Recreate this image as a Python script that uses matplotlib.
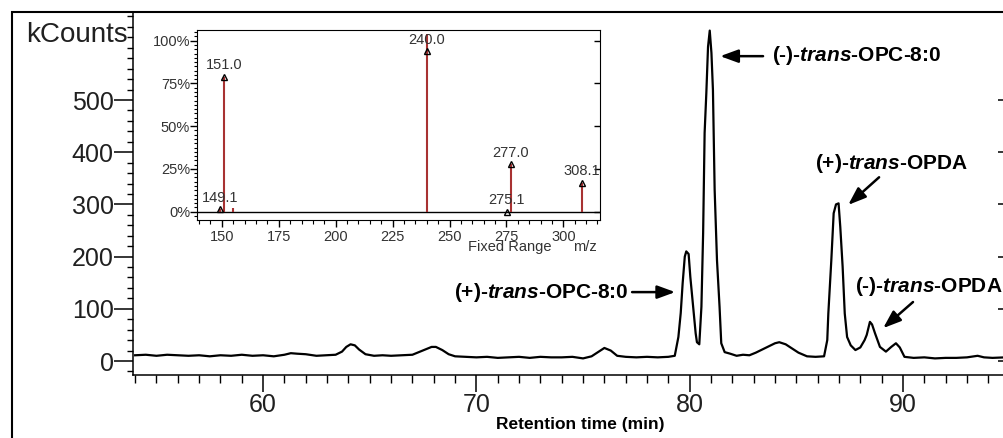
import numpy as np
import matplotlib
matplotlib.use("Agg")
import matplotlib.pyplot as plt
from matplotlib.patches import Rectangle
from matplotlib.ticker import MultipleLocator

# --- chromatogram ---
ret_time = [54.0, 54.5, 55.0, 55.5, 56.0, 56.5, 57.0, 57.5, 58.0, 58.5, 59.0, 59.5,
            60.0, 60.5, 61.0, 61.3, 61.6, 62.0, 62.5, 63.0, 63.4, 63.7, 63.9, 64.1,
            64.3, 64.5, 64.8, 65.2, 65.6, 66.0, 66.5, 67.0, 67.3, 67.6, 67.9, 68.1,
            68.4, 68.7, 69.0, 69.5, 70.0, 70.5, 71.0, 71.5, 72.0, 72.5, 73.0, 73.5,
            74.0, 74.5, 75.0, 75.4, 75.7, 76.0, 76.3, 76.6, 77.0, 77.5, 78.0, 78.5,
            79.0, 79.3, 79.47, 79.58, 79.67, 79.77, 79.84, 79.95, 80.03, 80.16, 80.28,
            80.34, 80.45, 80.55, 80.63, 80.70, 80.78, 80.86, 80.94, 81.02, 81.09, 81.17,
            81.28, 81.40, 81.48, 81.64, 81.9, 82.2, 82.5, 82.8, 83.1, 83.4, 83.7, 84.0,
            84.2, 84.5, 84.8, 85.1, 85.5, 85.9, 86.3, 86.45, 86.5, 86.64, 86.75, 86.86,
            86.98, 87.06, 87.17, 87.27, 87.38, 87.55, 87.77, 88.0, 88.2, 88.3, 88.45,
            88.55, 88.69, 88.92, 89.2, 89.45, 89.67, 89.85, 90.07, 90.5, 91.0, 91.5,
            92.0, 92.5, 93.0, 93.5, 93.8, 94.2, 94.8]
kcounts = [11, 12, 10, 12, 11, 10, 11, 9, 11, 10, 12, 10,
           11, 9, 12, 15, 14, 13, 10, 11, 12, 18, 27, 32,
           30, 22, 13, 10, 11, 10, 11, 12, 17, 22, 27, 27,
           21, 13, 9, 8, 7, 8, 6, 7, 8, 6, 8, 7,
           7, 8, 5, 9, 17, 25, 20, 10, 8, 7, 8, 7,
           8, 10, 46, 92, 149, 200, 210, 205, 161, 104, 53,
           36, 32, 104, 245, 437, 513, 602, 633, 590, 519, 328,
           193, 104, 34, 17, 14, 10, 12, 11, 16, 22, 28, 34,
           36, 32, 24, 16, 9, 8, 9, 40, 91, 193, 283, 300,
           302, 257, 181, 91, 46, 30, 21, 26, 40, 50, 75,
           70, 53, 27, 18, 27, 34, 26, 8, 6, 7, 5,
           6, 6, 7, 10, 7, 6, 7]

# --- inset mass spectrum ---
mz = [149.1, 151.0, 155.1, 240.0, 275.1, 277.0, 308.1]
rel_int = [1.6, 79, 2, 104, 0, 28, 17]
mz_labels = ["149.1", "151.0", "", "240.0", "275.1", "277.0", "308.1"]

y_ticks = [0, 100, 200, 300, 400, 500]
x_ticks = [60, 70, 80, 90]
inset_yticks = [0, 25, 50, 75, 100]
inset_ylabels = ["0%", "25%", "50%", "75%", "100%"]
inset_xticks = [150, 175, 200, 225, 250, 275, 300]

plt.rcParams['font.family'] = ['Liberation Sans', 'DejaVu Sans']
plt.rcParams['mathtext.fontset'] = 'custom'
plt.rcParams['mathtext.it'] = 'Liberation Sans:italic:bold'
plt.rcParams['mathtext.rm'] = 'Liberation Sans:bold'

fig = plt.figure(figsize=(10.04, 4.38), dpi=100)
W, H = 1004.0, 438.0

# main chromatogram axes
ax = fig.add_axes([133 / W, (H - 375) / H, (1006 - 133) / W, (375 - 12) / H])
ax.plot(ret_time, kcounts, color='black', lw=1.6)
ax.set_xlim(53.9, 94.83)
ax.set_ylim(-26.8, 668.6)
ax.spines['top'].set_visible(False)
for s in ['left', 'bottom', 'right']:
    ax.spines[s].set_linewidth(1.1)
ax.set_yticks(y_ticks)
ax.set_xticks(x_ticks)
ax.yaxis.set_minor_locator(MultipleLocator(20))
ax.xaxis.set_minor_locator(MultipleLocator(1))
ax.tick_params(axis='y', which='major', length=14, width=1.1, pad=0, labelsize=18,
               labelcolor='#202020', right=True)
ax.tick_params(axis='y', which='minor', length=4, width=1, right=False)
ax.tick_params(axis='x', which='major', length=12, width=1.1, pad=1, labelsize=18,
               labelcolor='#202020')
ax.tick_params(axis='x', which='minor', length=5.5, width=1)
# ticks on the right side point inwards
for t in ax.yaxis.get_major_ticks():
    t.tick2line.set_marker(matplotlib.lines.TICKLEFT)
    t.tick2line.set_markersize(6)
ax.set_xlabel('Retention time (min)', fontsize=12.5, fontweight='bold')
ax.xaxis.set_label_coords((580 - 133) / 873, (375 - 417) / 363)
ax.xaxis.label.set_va('top')
fig.text(128 / W, 1 - 35 / H, 'kCounts', ha='right', va='center', fontsize=20, color='#202020')

# peak labels
lab_kw = dict(fontsize=15, fontweight='bold', va='center')
ax.text(83.86, 586, r'(-)-$\mathit{trans}$-OPC-8:0', ha='left', **lab_kw)
ax.text(85.88, 379, r'(+)-$\mathit{trans}$-OPDA', ha='left', **lab_kw)
ax.text(77.11, 132, r'(+)-$\mathit{trans}$-OPC-8:0', ha='right', **lab_kw)
ax.text(87.75, 142, r'(-)-$\mathit{trans}$-OPDA', ha='left', clip_on=False, **lab_kw)

arrow_kw = dict(arrowstyle='-|>,head_length=0.6,head_width=0.22', color='black', lw=1.8,
                mutation_scale=18, shrinkA=0, shrinkB=0)
for head, tail in [((81.43, 584), (83.44, 584)),
                   ((87.43, 299), (88.88, 352)),
                   ((79.32, 132), (77.30, 132)),
                   ((89.07, 63), (90.47, 113))]:
    ax.annotate('', xy=head, xytext=tail, arrowprops=arrow_kw)

# outer frame
fig.patches.append(Rectangle((12 / W, -0.1), 1.2, (H - 12) / H + 0.1, transform=fig.transFigure,
                             fill=False, lw=1.5, edgecolor='black', clip_on=False))

# inset mass spectrum
ins = fig.add_axes([197 / W, (H - 220) / H, (600 - 197) / W, (220 - 30) / H])
ins.set_xlim(139.1, 316.1)
ins.set_ylim(-4.9, 106.3)
ins.axhline(0, color='black', lw=1)
ins.vlines(mz, 0, rel_int, color='#a83232', lw=1.5)
marker_y = np.minimum(rel_int, 94)  # base peak marker sits below the frame top
ins.plot(mz[:2] + mz[3:], list(marker_y[:2]) + list(marker_y[3:]), ls='none', marker='^',
         ms=5, mfc='none', mec='black', mew=1)
for m, y, lab in zip(mz, marker_y, mz_labels):
    if lab:
        ins.annotate(lab, (m, y), xytext=(0, 3), textcoords='offset points', ha='center',
                     va='bottom', fontsize=10.5, color='#333333')
ins.set_yticks(inset_yticks)
ins.set_yticklabels(inset_ylabels)
ins.set_xticks(inset_xticks)
ins.yaxis.set_minor_locator(MultipleLocator(2.5))
ins.xaxis.set_minor_locator(MultipleLocator(5))
ins.tick_params(axis='both', which='major', labelsize=10.5, labelcolor='#333333', width=1)
ins.tick_params(axis='y', which='major', length=5, pad=0, right=True)
ins.tick_params(axis='y', which='minor', length=2.5, width=0.8)
ins.tick_params(axis='x', which='major', length=5, pad=2)
ins.tick_params(axis='x', which='minor', length=3, width=0.8)
for t in ins.yaxis.get_major_ticks():
    t.tick2line.set_marker(matplotlib.lines.TICKLEFT)
    t.tick2line.set_markersize(4)
ins.text(0.777, -0.142, 'Fixed Range', transform=ins.transAxes, ha='center', va='center',
         fontsize=10.5, color='#333333')
ins.text(0.963, -0.142, 'm/z', transform=ins.transAxes, ha='center', va='center',
         fontsize=10.5, color='#333333')

fig.savefig('out.png', dpi=100)
